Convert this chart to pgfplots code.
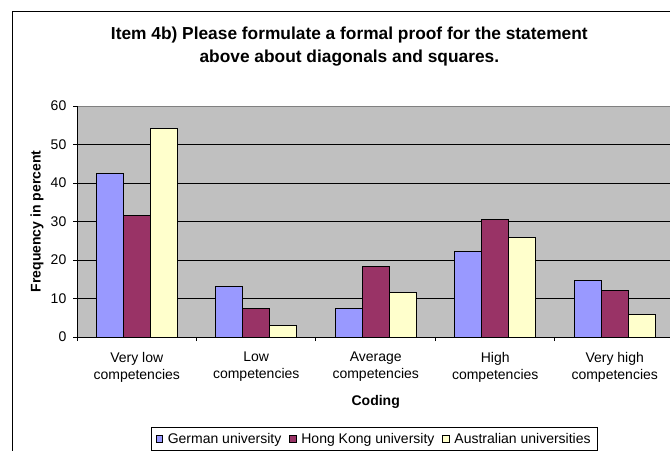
\documentclass[border=0pt]{standalone}
\usepackage{pgfplots}
\pgfplotsset{compat=1.18}
\usepackage{fontspec}
\setmainfont{Liberation Sans}
\definecolor{german}{HTML}{9999FF}
\definecolor{hk}{HTML}{993366}
\definecolor{aus}{HTML}{FFFFCC}
\definecolor{plotbg}{HTML}{C0C0C0}
\definecolor{bordergray}{HTML}{808080}
\begin{document}
\begin{tikzpicture}
\draw[line width=0.75pt, black] (9.5pt,-8.25pt) rectangle (540pt,-360pt);
\node[font=\fontsize{13}{17.25}\selectfont\bfseries, align=center] at (262pt,-34.9pt)
  {Item 4b) Please formulate a formal proof for the statement\\above about diagonals and squares.};
\begin{axis}[
  at={(57.75pt,-252.75pt)}, anchor=south west,
  scale only axis, width=448.1pt, height=173.25pt,
  ybar=0pt, bar width=20.2pt,
  xmin=-0.5, xmax=4.5, ymin=0, ymax=60,
  axis lines*=left, axis line style={-, line width=0.75pt, black},
  axis background/.style={fill=plotbg, draw=bordergray, line width=0.75pt},
  tick align=outside, major tick length=3pt,
  xtick={-0.5,0.5,1.5,2.5,3.5}, xticklabels={},
  extra x ticks={0,1,2,3,4},
  extra x tick labels={{Very low\\competencies},{Low\\competencies},{Average\\competencies},{High\\competencies},{Very high\\competencies}},
  extra x tick style={major tick length=0pt, grid=none},
  xticklabel style={align=center, font=\fontsize{10.5}{12.75}\selectfont, yshift=-7.75pt},
  ytick={0,10,...,50}, extra y ticks={60}, extra y tick style={grid=none},
  ymajorgrids, grid style={black, line width=0.75pt},
  yticklabel style={font=\fontsize{10.5}{12}\selectfont, xshift=-1.5pt},
  /pgf/number format/assume math mode=true,
  tick style={black, line width=0.75pt},
  xlabel={Coding}, ylabel={Frequency in percent},
  label style={font=\fontsize{10.5}{12}\selectfont\bfseries},
  xlabel style={at={(axis description cs:0.5,-0.279)}, anchor=center},
  ylabel style={at={(axis description cs:-0.067,0.5)}, anchor=center},
  legend style={at={(axis description cs:0.498,-0.39)}, anchor=north, legend columns=3,
    draw=black, line width=0.75pt, font=\fontsize{10.5}{12}\selectfont,
    /tikz/every odd column/.append style={column sep=1.5pt},
    /tikz/every even column/.append style={column sep=4pt}},
  legend image code/.code={\draw[#1,draw=black,line width=0.5pt] (0pt,-2.5pt) rectangle (5pt,2.5pt);},
]
\addplot[fill=german, draw=black, line width=0.75pt] coordinates {(0,42.5) (1,13.2) (2,7.5) (3,22.1) (4,14.6)};
\addplot[fill=hk, draw=black, line width=0.75pt] coordinates {(0,31.6) (1,7.3) (2,18.4) (3,30.4) (4,12.0)};
\addplot[fill=aus, draw=black, line width=0.75pt] coordinates {(0,54.2) (1,2.9) (2,11.5) (3,25.8) (4,5.8)};
\legend{German university, Hong Kong university, Australian universities}
\end{axis}
\pgfresetboundingbox
\useasboundingbox (0pt,0pt) rectangle (502.5pt,-337.5pt);
\end{tikzpicture}
\end{document}
